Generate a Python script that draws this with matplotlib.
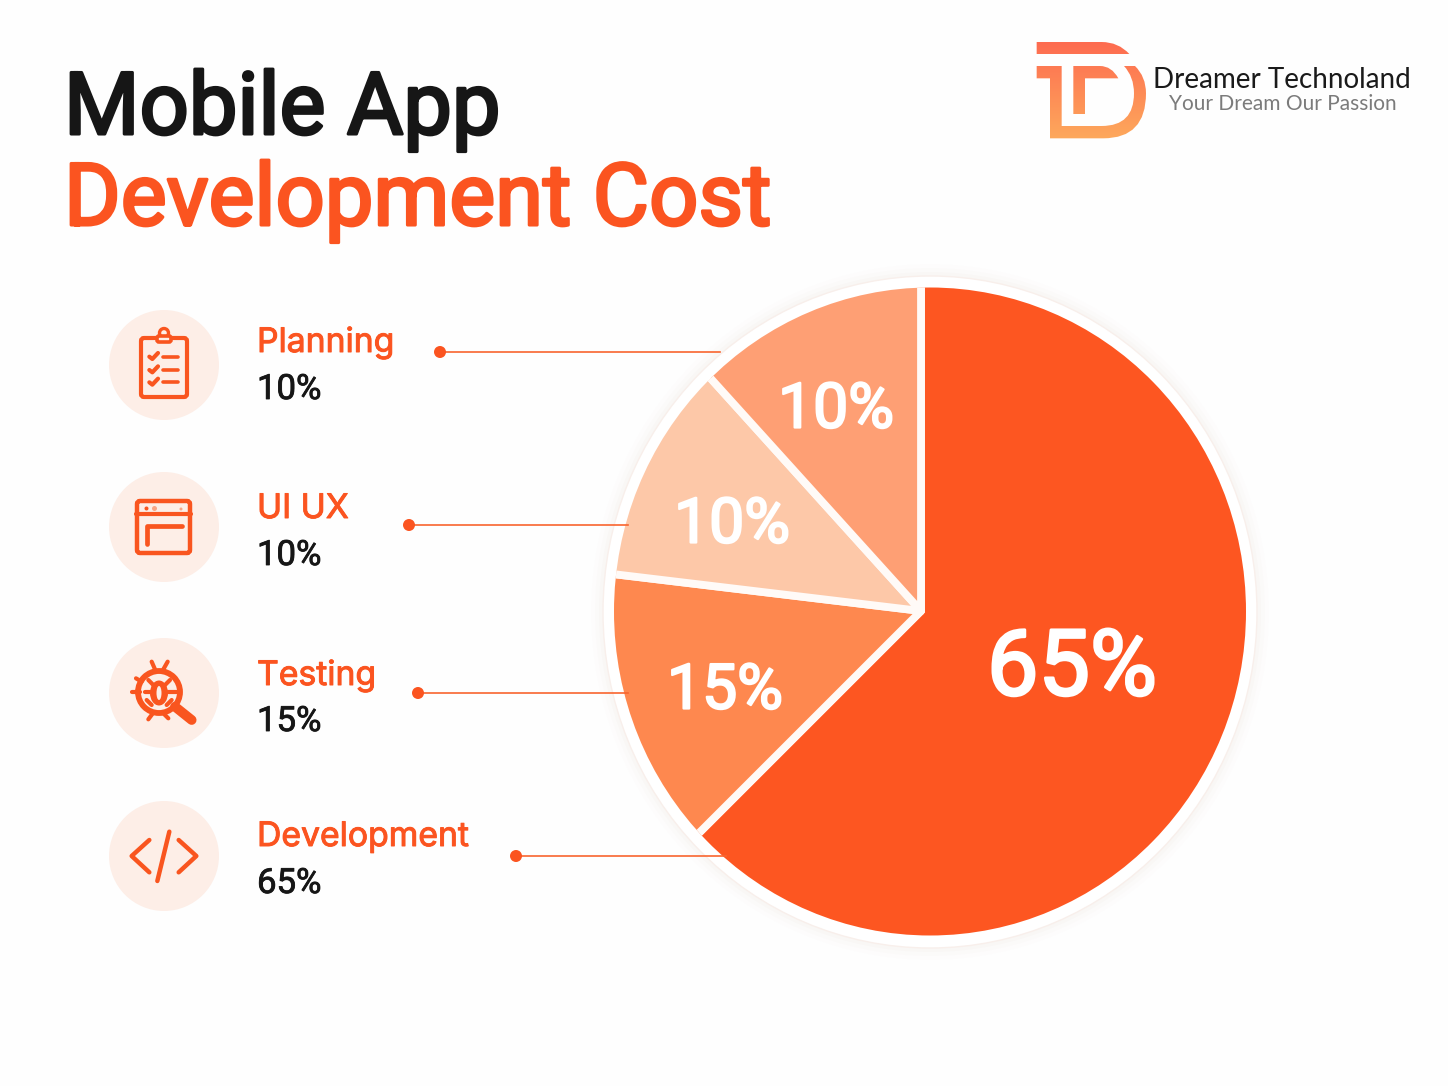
import matplotlib
matplotlib.use('Agg')
import matplotlib.pyplot as plt
import matplotlib.patheffects as pe
import numpy as np
from matplotlib.patches import Circle, Ellipse, FancyBboxPatch, PathPatch
from matplotlib.path import Path

# legend rows, top to bottom
categories = ['Planning', 'UI UX', 'Testing', 'Development']
percent_labels = ['10%', '10%', '15%', '65%']

# wedge sizes as drawn in the picture, clockwise from 12 o'clock
slice_names = ['Development', 'Testing', 'UI UX', 'Planning']
slice_sizes = [62.5, 14.4, 11.4, 11.7]
slice_labels = ['65%', '15%', '10%', '10%']
slice_colors = ['#fd5621', '#fe884f', '#fdc8a8', '#fe9f74']

H = 1086
ORANGE = '#fb5420'
INK = '#161616'
STROKE = '#f9551f'


def Y(y):
    return H - y


def fat(width, color):
    return [pe.withStroke(linewidth=width, foreground=color)]


fig = plt.figure(figsize=(14.48, 10.86), dpi=100, facecolor='#fefefe')
ax = fig.add_axes([0, 0, 1, 1])
ax.set_facecolor('#fefefe')

# soft ring round the pie
for w, a in zip([24, 16, 8], [0.012, 0.02, 0.03]):
    ax.add_patch(Ellipse((930, Y(612)), 654 + w, 672 + w, fc='#c9a090', ec='none', alpha=a, zorder=1))
ax.add_patch(Ellipse((930, Y(612)), 654, 672, fc='white', ec='#f8efeb', lw=1, zorder=1))

wedges, _ = ax.pie(slice_sizes, colors=slice_colors, startangle=90, counterclock=False,
                   center=(921, Y(611)), radius=345,
                   wedgeprops={'edgecolor': '#fffaf7', 'linewidth': 5.6, 'zorder': 2, 'joinstyle': 'round'})
ax.set_xlim(0, 1448)
ax.set_ylim(0, H)
ax.set_aspect('equal')
ax.axis('off')
pie_clip = Ellipse((930, Y(611.5)), 632, 648, fc='none', ec='none', transform=ax.transData)
ax.add_patch(pie_clip)
for w in wedges:
    w.set_clip_on(True)
    w.set_clip_path(pie_clip)

label_xy = [(1072, 660), (725, 685), (732, 519), (836, 404)]
label_size = [66, 45, 45, 45]
label_fat = [2.0, 1.6, 1.6, 1.6]
for txt, (x, y), fs, lw in zip(slice_labels, label_xy, label_size, label_fat):
    ax.text(x, Y(y), txt, color='white', fontsize=fs, family='Roboto',
            ha='center', va='center_baseline', zorder=5, path_effects=fat(lw, 'white'))

# title
ax.text(64, Y(134), 'Mobile App', color=INK, fontsize=62.3, family='Roboto',
        va='baseline', zorder=5, path_effects=fat(2.2, INK))
ax.text(64, Y(225), 'Development Cost', color=ORANGE, fontsize=62.3, family='Roboto',
        va='baseline', zorder=5, path_effects=fat(2.2, ORANGE))

# legend rows
row_y = [365, 527, 693, 856]
name_y = [352, 518, 685, 846]
pct_y = [399, 565, 731, 893]
dot_x = [440, 409, 418, 516]
line_y = [352, 525, 693, 856]
line_end = [720, 628, 628, 726]
for i, name in enumerate(categories):
    ax.add_patch(Circle((164, Y(row_y[i])), 55, fc='#fdeee7', ec='none', zorder=2))
    ax.text(257, Y(name_y[i]), name, color=ORANGE, fontsize=24.3, family='Inter',
            va='baseline', zorder=5, path_effects=fat(0.7, ORANGE))
    ax.text(257, Y(pct_y[i]), percent_labels[i], color=INK, fontsize=25, family='Roboto',
            va='baseline', zorder=5, path_effects=fat(0.6, INK))
    ax.plot([dot_x[i], line_end[i]], [Y(line_y[i])] * 2, color='#f9652f', lw=1.2, zorder=3)
    ax.add_patch(Circle((dot_x[i], Y(line_y[i])), 6, fc=ORANGE, ec='none', zorder=4))


def stroke(x0, y0, pts, lw=3.0):
    xs = [x0 + p[0] / 3 for p in pts]
    ys = [Y(y0 + p[1] / 3) for p in pts]
    ax.plot(xs, ys, color=STROKE, lw=lw, solid_capstyle='round', solid_joinstyle='round', zorder=4)


# clipboard
ax.add_patch(FancyBboxPatch((141, Y(397)), 46, 59, boxstyle='round,pad=0,rounding_size=3',
                            fc='none', ec=STROKE, lw=3, zorder=4))
ax.add_patch(Circle((164, Y(333)), 4.5, fc='#fdeee7', ec=STROKE, lw=2.4, zorder=4))
ax.add_patch(FancyBboxPatch((157, Y(342)), 14, 6, boxstyle='round,pad=0,rounding_size=2',
                            fc='#fdeee7', ec=STROKE, lw=2.6, zorder=4))
for yy in [170, 210, 247]:
    stroke(100, 300, [(148, yy), (157, yy + 7), (174, yy - 11)], lw=3)
    stroke(100, 300, [(190, yy), (235, yy)], lw=2.6)

# browser window
ax.add_patch(FancyBboxPatch((137, Y(553)), 53, 52, boxstyle='round,pad=0,rounding_size=3',
                            fc='none', ec=STROKE, lw=3.2, zorder=4))
stroke(100, 300, [(107, 643), (273, 643)], lw=3)
stroke(100, 300, [(141, 733), (141, 677), (245, 677)], lw=3.4)
ax.add_patch(Circle((146.5, Y(508.5)), 2, fc=STROKE, ec='none', zorder=4))
ax.add_patch(Circle((154.5, Y(508.5)), 2.5, fc='#f9a585', ec='none', zorder=4))
ax.add_patch(Circle((181, Y(509)), 1.5, fc='#f9a585', ec='none', zorder=4))

# bug under a magnifier
ax.add_patch(Circle((159, Y(692)), 21, fc='none', ec=STROKE, lw=4.2, zorder=4))
ax.add_patch(Ellipse((159, Y(693)), 18, 25, fc=STROKE, ec='none', zorder=4))
ax.add_patch(Ellipse((159, Y(693)), 5, 14, fc='#fdeee7', ec='none', zorder=5))
stroke(100, 630, [(225, 230), (275, 270)], lw=7)
for seg in [[(155, 95), (165, 118)], [(203, 95), (190, 118)], [(108, 145), (125, 155)],
            [(97, 185), (120, 185)], [(145, 268), (160, 248)], [(205, 265), (190, 250)],
            [(135, 185), (150, 185)], [(205, 185), (230, 185)], [(145, 150), (160, 165)],
            [(210, 150), (195, 165)], [(140, 210), (155, 225)], [(215, 210), (200, 225)]]:
    stroke(100, 630, seg, lw=3)

# code brackets
stroke(100, 630, [(148, 630), (95, 678), (148, 727)], lw=3.2)
stroke(100, 630, [(236, 630), (289, 678), (236, 727)], lw=3.2)
stroke(100, 630, [(208, 605), (172, 753)], lw=3.2)


# logo
def lx(p):
    return (1020 + p[0] / 3, Y(30 + p[1] / 3))


M, L, C3, Z = Path.MOVETO, Path.LINETO, Path.CURVE3, Path.CLOSEPOLY
logo_parts = [
    ([(50, 36), (245, 36), (295, 36), (328, 72), (50, 72), (50, 36)], [M, L, C3, C3, L, Z]),
    ([(50, 108), (125, 108), (125, 288), (245, 288), (342, 288), (342, 190), (342, 140), (312, 108),
      (345, 108), (378, 140), (378, 190), (378, 325), (250, 325), (90, 325), (90, 145), (50, 145), (50, 108)],
     [M, L, L, L, C3, C3, C3, C3, L, C3, C3, C3, C3, L, L, L, Z]),
    ([(160, 108), (240, 108), (275, 108), (295, 145), (195, 145), (195, 252), (160, 252), (160, 108)],
     [M, L, C3, C3, L, L, L, Z]),
]
grad = np.linspace(0, 1, 128).reshape(-1, 1)
top_c = np.array([0xfd, 0x6a, 0x50]) / 255
bot_c = np.array([0xfe, 0xa9, 0x5c]) / 255
rgb = top_c[None, None, :] * (1 - grad[..., None]) + bot_c[None, None, :] * grad[..., None]
for pts, codes in logo_parts:
    patch = PathPatch(Path([lx(p) for p in pts], codes), fc='none', ec='none', transform=ax.transData)
    ax.add_patch(patch)
    im = ax.imshow(rgb, extent=(1030, 1150, Y(140), Y(40)), origin='upper', aspect='auto', zorder=3)
    im.set_clip_path(patch)
ax.set_xlim(0, 1448)
ax.set_ylim(0, H)

ax.text(1282, Y(88), 'Dreamer Technoland', color='#1a1a1a', fontsize=20, family='Lato',
        ha='center', va='baseline', zorder=5)
ax.text(1283, Y(110), 'Your Dream Our Passion', color='#7b7b7b', fontsize=15, family='Lato',
        ha='center', va='baseline', zorder=5)

fig.savefig('out.png', dpi=100, facecolor=fig.get_facecolor())
